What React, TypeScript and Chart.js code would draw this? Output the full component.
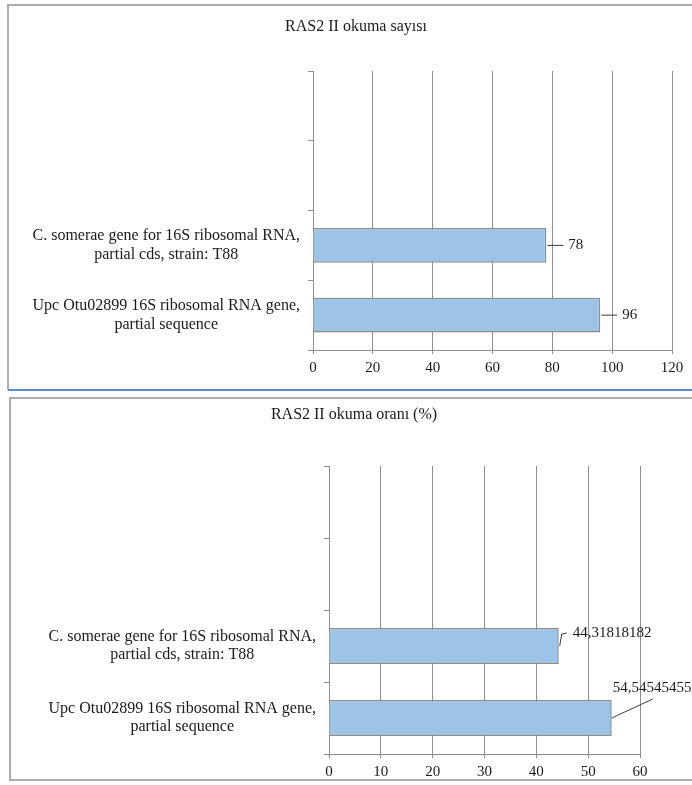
import React, { useEffect, useRef } from "react";
import { Chart, registerables } from "chart.js";

Chart.register(...registerables);

// Category labels (top two bands are empty rows in the source sheet)
const categories: (string | string[])[] = [
  "",
  "",
  ["C. somerae gene for 16S ribosomal RNA,", "partial cds, strain: T88"],
  ["Upc Otu02899 16S ribosomal RNA gene,", "partial sequence"],
];

// Read counts
const countValues: (number | null)[] = [null, null, 78, 96];
const countTicks = [0, 20, 40, 60, 80, 100, 120];

// Read share (%)
const rateValues: (number | null)[] = [null, null, 44.31818182, 54.54545455];
const rateTicks = [0, 10, 20, 30, 40, 50, 60];

const countTitle = "RAS2 II okuma sayısı";
const rateTitle = "RAS2 II okuma oranı (%)";

const SERIF = '"Liberation Serif", "Times New Roman", serif';
const TEXT = "#1a1a1a";
const GRID = "#8f8f8f";
const BAR_FILL = "#9dc3e6";
const BAR_EDGE = "#8c8c8c";

type Callout = { leader: [number, number][]; text: [number, number] };

// Draws value labels with short leader lines next to each bar end
function makeCallouts(callouts: Callout[], format: (v: number) => string) {
  return {
    id: "callouts",
    afterDatasetsDraw(chart: Chart) {
      const { ctx } = chart;
      const meta = chart.getDatasetMeta(0);
      const values = chart.data.datasets[0].data as (number | null)[];
      ctx.save();
      ctx.strokeStyle = "#3a3a3a";
      ctx.lineWidth = 1;
      ctx.fillStyle = TEXT;
      ctx.font = `15px ${SERIF}`;
      ctx.textBaseline = "middle";
      ctx.textAlign = "left";
      meta.data.forEach((bar: any, i: number) => {
        const v = values[i];
        const c = callouts[i];
        if (v == null || !c) return;
        const bx = bar.x;
        const by = bar.y;
        ctx.beginPath();
        c.leader.forEach(([dx, dy], k) => {
          if (k === 0) ctx.moveTo(bx + dx, by + dy);
          else ctx.lineTo(bx + dx, by + dy);
        });
        ctx.stroke();
        ctx.fillText(format(v), bx + c.text[0], by + c.text[1]);
      });
      ctx.restore();
    },
  };
}

// Chart heading, centred on the panel rather than on the plot
function makeHeading(text: string, cx: number, cy: number) {
  return {
    id: "heading",
    afterDraw(chart: Chart) {
      const { ctx } = chart;
      ctx.save();
      ctx.fillStyle = TEXT;
      ctx.font = `16px ${SERIF}`;
      ctx.textAlign = "center";
      ctx.textBaseline = "middle";
      ctx.fillText(text, cx, cy);
      ctx.restore();
    },
  };
}

type PanelProps = {
  title: string;
  titleX: number;
  titleY: number;
  values: (number | null)[];
  ticks: number[];
  width: number;
  height: number;
  axisWidth: number;
  axisHeight: number;
  padRight: number;
  padTop: number;
  callouts: Callout[];
};

const formatValue = (v: number) => String(v).replace(".", ",");

function BarPanel(p: PanelProps) {
  const ref = useRef<HTMLCanvasElement | null>(null);

  useEffect(() => {
    if (!ref.current) return;
    const chart = new Chart(ref.current, {
      type: "bar",
      data: {
        labels: categories as any,
        datasets: [
          {
            data: p.values as any,
            backgroundColor: BAR_FILL,
            borderColor: BAR_EDGE,
            borderWidth: 1.5,
            categoryPercentage: 1,
            barPercentage: 0.5,
          },
        ],
      },
      options: {
        indexAxis: "y",
        responsive: false,
        animation: false,
        devicePixelRatio: 1,
        layout: { padding: { left: 0, right: p.padRight, top: p.padTop, bottom: 0 } },
        plugins: {
          legend: { display: false },
          tooltip: { enabled: false },
          title: { display: false },
        },
        scales: {
          x: {
            min: p.ticks[0],
            max: p.ticks[p.ticks.length - 1],
            afterFit: (s: any) => {
              s.height = p.axisHeight;
            },
            ticks: {
              stepSize: p.ticks[1] - p.ticks[0],
              color: TEXT,
              font: { family: SERIF, size: 15 },
              padding: 5,
              maxRotation: 0,
            },
            grid: { color: GRID, lineWidth: 1, drawTicks: true, tickLength: 4 },
            border: { display: true, color: GRID, width: 1 },
          },
          y: {
            afterFit: (s: any) => {
              s.width = p.axisWidth;
            },
            ticks: {
              color: TEXT,
              font: { family: SERIF, size: 16, lineHeight: 1.15 },
              crossAlign: "center",
              padding: 8,
              autoSkip: false,
            },
            grid: {
              offset: true,
              drawOnChartArea: false,
              drawTicks: true,
              tickLength: 5,
              color: GRID,
            },
            border: { display: true, color: GRID, width: 1 },
          },
        },
      },
      plugins: [makeCallouts(p.callouts, formatValue), makeHeading(p.title, p.titleX, p.titleY)],
    });
    return () => chart.destroy();
  }, []);

  return (
    <canvas
      ref={ref}
      width={p.width}
      height={p.height}
      style={{ display: "block", width: p.width, height: p.height }}
    />
  );
}

export default function App() {
  return (
    <div
      style={{
        position: "absolute",
        left: 0,
        top: 0,
        width: 692,
        height: 785,
        overflow: "hidden",
        background: "#ffffff",
      }}
    >
      {/* upper panel frame */}
      <div
        style={{
          position: "absolute",
          left: 7,
          top: 4,
          width: 720,
          height: 386,
          borderLeft: "2px solid #adadad",
          borderTop: "2px solid #adadad",
          boxSizing: "border-box",
        }}
      />
      <div
        style={{
          position: "absolute",
          left: 8,
          top: 389,
          width: 700,
          height: 2,
          background: "#5b8bd0",
        }}
      />
      {/* lower panel frame */}
      <div
        style={{
          position: "absolute",
          left: 9,
          top: 397,
          width: 720,
          height: 384,
          border: "2px solid #adadad",
          boxSizing: "border-box",
        }}
      />
      <div style={{ position: "absolute", left: 10, top: 7 }}>
        <BarPanel
          title={countTitle}
          titleX={346}
          titleY={20}
          values={countValues}
          ticks={countTicks}
          width={682}
          height={382}
          axisWidth={303}
          axisHeight={39}
          padRight={20}
          padTop={64}
          callouts={[
            { leader: [], text: [0, 0] },
            { leader: [], text: [0, 0] },
            { leader: [[1, 0], [17, 0]], text: [22, 0] },
            { leader: [[1, 0], [17, 0]], text: [22, 0] },
          ]}
        />
      </div>
      <div style={{ position: "absolute", left: 12, top: 400 }}>
        <BarPanel
          title={rateTitle}
          titleX={342}
          titleY={15}
          values={rateValues}
          ticks={rateTicks}
          width={680}
          height={382}
          axisWidth={317}
          axisHeight={28}
          padRight={52}
          padTop={66}
          callouts={[
            { leader: [], text: [0, 0] },
            { leader: [], text: [0, 0] },
            { leader: [[1, 0], [3, -12], [8, -13]], text: [14, -13] },
            { leader: [[0, 0], [41, -19]], text: [1, -30] },
          ]}
        />
      </div>
    </div>
  );
}
